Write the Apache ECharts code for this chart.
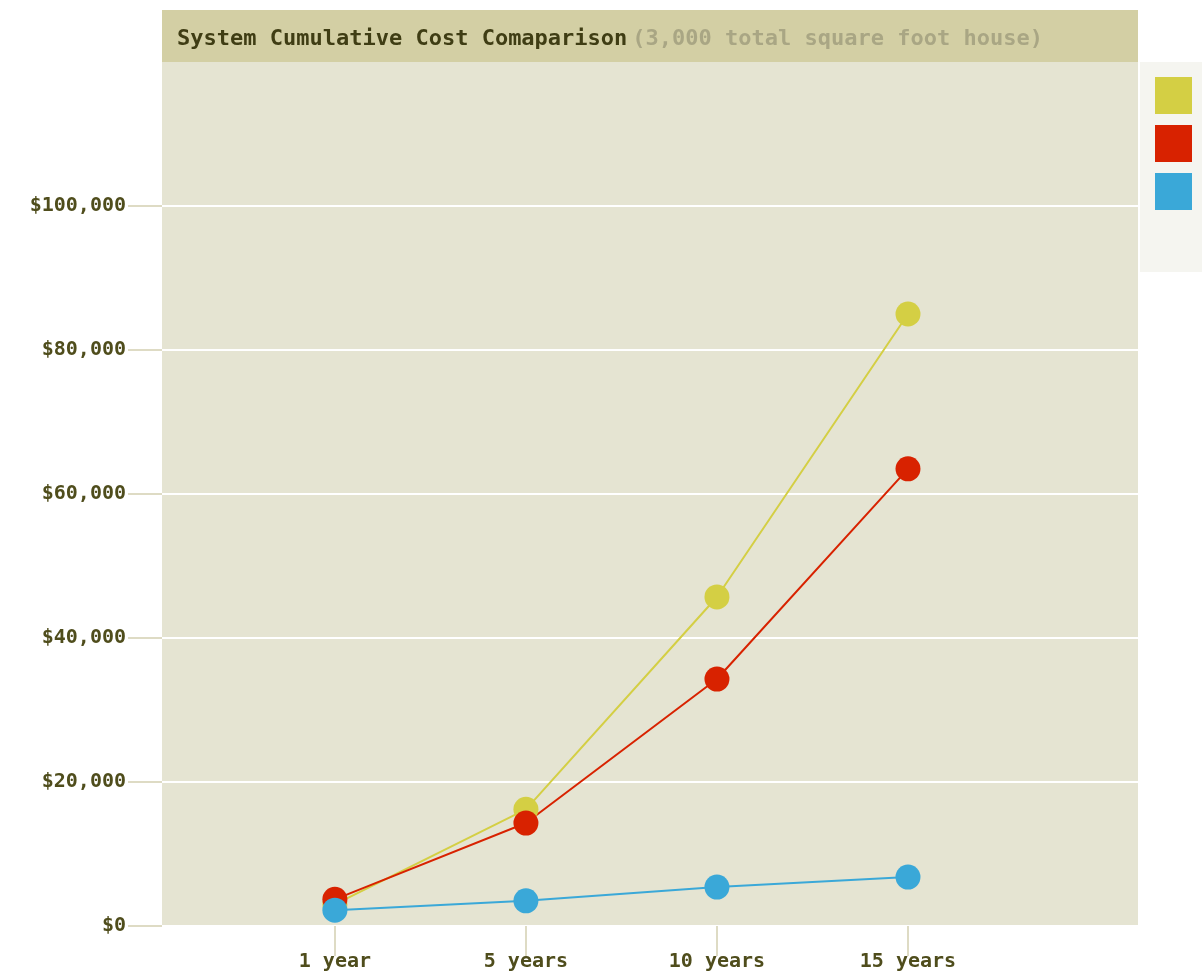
<!DOCTYPE html>
<html>
<head>
<meta charset="utf-8">
<script src="https://cdn.jsdelivr.net/npm/echarts@6/dist/echarts.min.js"></script>
<style>
  html, body { margin: 0; padding: 0; background: #fff; }
  #chart { width: 1202px; height: 976px; }
</style>
</head>
<body>
<div id="chart"></div>
<script>
  // category labels along the bottom
  const periods = ['1 year', '5 years', '10 years', '15 years']
  // cumulative cost per system
  const systemNames = ['System 1', 'System 2', 'System 3']
  const yellowCost = [3000, 16200, 45700, 85000]
  const redCost = [3700, 14300, 34300, 63500]
  const blueCost = [2200, 3500, 5400, 6800]
  const yTicks = [0, 20000, 40000, 60000, 80000, 100000]

  const colors = ['#d4cf44', '#d82200', '#3aa8d8']
  const labelColor = '#4f4d1c'
  const tickColor = '#dedbc4'
  const font = '"DejaVu Sans Mono", monospace'

  function pairs (values) {
    return values.map(function (v, i) { return [i, v] })
  }

  function money (v) {
    return '$' + v.toLocaleString('en-US')
  }

  const chart = echarts.init(document.getElementById('chart'))
  const option = {
    animation: false,
    color: colors,
    graphic: [{
      type: 'rect',
      shape: { x: 162, y: 10, width: 976, height: 52 },
      style: { fill: '#d3cfa4' },
      z: 0
    }],
    title: {
      text: '{a|System Cumulative Cost Comaparison} {b|(3,000 total square foot house)}',
      left: 172,
      top: 23,
      textStyle: {
        rich: {
          a: { fontFamily: font, fontSize: 22, fontWeight: 'bold', color: '#3f3d14' },
          b: { fontFamily: font, fontSize: 22, color: '#a9a684' }
        }
      }
    },
    legend: {
      orient: 'vertical',
      left: 1140,
      top: 62,
      icon: 'rect',
      itemWidth: 37,
      itemHeight: 37,
      itemGap: 11,
      padding: [15, 40, 62, 15],
      backgroundColor: '#f5f5f0',
      formatter: function () { return '' },
      data: systemNames
    },
    grid: {
      left: 162,
      top: 62,
      width: 976,
      height: 864,
      show: true,
      backgroundColor: '#e5e4d2',
      borderWidth: 0
    },
    xAxis: {
      type: 'value',
      min: -0.905,
      max: 4.204,
      axisLine: { show: false, onZero: false },
      splitLine: { show: false },
      axisTick: { show: true, length: 30, customValues: [0, 1, 2, 3], lineStyle: { color: tickColor, width: 2 } },
      axisLabel: {
        customValues: [0, 1, 2, 3],
        margin: 26,
        fontFamily: font,
        fontSize: 20,
        fontWeight: 'bold',
        color: labelColor,
        formatter: function (v) { return periods[Math.round(v)] }
      }
    },
    yAxis: {
      type: 'value',
      min: 0,
      max: 120000,
      interval: 20000,
      axisLine: { show: false, onZero: false },
      axisTick: { show: true, length: 34, customValues: yTicks, lineStyle: { color: tickColor, width: 2 } },
      splitLine: { lineStyle: { color: '#ffffff', width: 2 } },
      axisLabel: {
        customValues: yTicks,
        margin: 36,
        fontFamily: font,
        fontSize: 20,
        fontWeight: 'bold',
        color: labelColor,
        formatter: money
      }
    },
    series: [{
      name: systemNames[0],
      type: 'line',
      symbol: 'circle',
      symbolSize: 25,
      lineStyle: { width: 2 },
      data: pairs(yellowCost)
    }, {
      name: systemNames[1],
      type: 'line',
      symbol: 'circle',
      symbolSize: 25,
      lineStyle: { width: 2 },
      data: pairs(redCost)
    }, {
      name: systemNames[2],
      type: 'line',
      symbol: 'circle',
      symbolSize: 25,
      lineStyle: { width: 2 },
      data: pairs(blueCost)
    }]
  }
  chart.setOption(option)
</script>
</body>
</html>
